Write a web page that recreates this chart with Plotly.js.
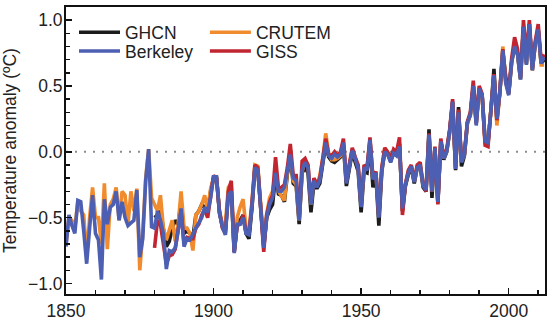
<!DOCTYPE html>
<html>
<head>
<meta charset="utf-8">
<script src="https://cdn.plot.ly/plotly-3.0.1.min.js"></script>
<style>html,body{margin:0;padding:0;background:#fff;}#chart{width:550px;height:323px;}</style>
</head>
<body>
<div id="chart"></div>
<script>
// Years 1850-2012 (Berkeley, CRUTEM) and 1880-2012 (GHCN, GISS)
var yearsAll = [1850,1851,1852,1853,1854,1855,1856,1857,1858,1859,1860,1861,1862,1863,1864,1865,1866,1867,1868,1869,
1870,1871,1872,1873,1874,1875,1876,1877,1878,1879,1880,1881,1882,1883,1884,1885,1886,1887,1888,1889,
1890,1891,1892,1893,1894,1895,1896,1897,1898,1899,1900,1901,1902,1903,1904,1905,1906,1907,1908,1909,
1910,1911,1912,1913,1914,1915,1916,1917,1918,1919,1920,1921,1922,1923,1924,1925,1926,1927,1928,1929,
1930,1931,1932,1933,1934,1935,1936,1937,1938,1939,1940,1941,1942,1943,1944,1945,1946,1947,1948,1949,
1950,1951,1952,1953,1954,1955,1956,1957,1958,1959,1960,1961,1962,1963,1964,1965,1966,1967,1968,1969,
1970,1971,1972,1973,1974,1975,1976,1977,1978,1979,1980,1981,1982,1983,1984,1985,1986,1987,1988,1989,
1990,1991,1992,1993,1994,1995,1996,1997,1998,1999,2000,2001,2002,2003,2004,2005,2006,2007,2008,2009,
2010,2011,2012];
var years1880 = [1880,1881,1882,1883,1884,1885,1886,1887,1888,1889,
1890,1891,1892,1893,1894,1895,1896,1897,1898,1899,1900,1901,1902,1903,1904,1905,1906,1907,1908,1909,
1910,1911,1912,1913,1914,1915,1916,1917,1918,1919,1920,1921,1922,1923,1924,1925,1926,1927,1928,1929,
1930,1931,1932,1933,1934,1935,1936,1937,1938,1939,1940,1941,1942,1943,1944,1945,1946,1947,1948,1949,
1950,1951,1952,1953,1954,1955,1956,1957,1958,1959,1960,1961,1962,1963,1964,1965,1966,1967,1968,1969,
1970,1971,1972,1973,1974,1975,1976,1977,1978,1979,1980,1981,1982,1983,1984,1985,1986,1987,1988,1989,
1990,1991,1992,1993,1994,1995,1996,1997,1998,1999,2000,2001,2002,2003,2004,2005,2006,2007,2008,2009,
2010,2011,2012];

var berkeley = [-0.72,-0.48,-0.56,-0.62,-0.37,-0.38,-0.60,-0.85,-0.58,-0.33,
-0.62,-0.67,-0.97,-0.36,-0.55,-0.42,-0.40,-0.30,-0.52,-0.38,
-0.50,-0.56,-0.54,-0.52,-0.29,-0.80,-0.66,-0.22,0.02,-0.57,
-0.58,-0.45,-0.52,-0.62,-0.89,-0.75,-0.76,-0.73,-0.60,-0.43,
-0.72,-0.66,-0.67,-0.62,-0.58,-0.54,-0.50,-0.42,-0.46,-0.35,
-0.19,-0.19,-0.47,-0.57,-0.63,-0.33,-0.30,-0.77,-0.55,-0.55,
-0.50,-0.62,-0.63,-0.42,-0.12,-0.14,-0.42,-0.73,-0.50,-0.40,
-0.35,-0.16,-0.30,-0.30,-0.27,-0.15,-0.02,-0.20,-0.22,-0.52,
-0.14,-0.08,-0.12,-0.40,-0.22,-0.27,-0.22,-0.08,0.07,-0.03,
-0.05,-0.02,-0.04,-0.02,0.07,-0.24,-0.12,0.01,-0.05,-0.13,
-0.42,-0.12,-0.14,0.09,-0.21,-0.16,-0.50,-0.14,0.00,-0.02,
-0.08,-0.01,-0.03,0.04,-0.43,-0.25,-0.16,-0.11,-0.23,-0.12,
-0.10,-0.26,-0.29,0.13,-0.30,0.03,-0.38,0.08,-0.05,0.00,
0.15,0.38,-0.13,0.30,-0.08,-0.02,0.22,0.28,0.50,0.20,
0.48,0.43,0.08,0.07,0.32,0.58,0.25,0.45,0.77,0.52,
0.43,0.68,0.80,0.74,0.55,0.95,0.66,0.97,0.62,0.82,
0.93,0.67,0.72];

var crutem = [-0.70,-0.50,-0.52,-0.58,-0.38,-0.45,-0.48,-0.80,-0.50,-0.27,
-0.50,-0.50,-0.70,-0.24,-0.74,-0.40,-0.36,-0.27,-0.52,-0.30,
-0.33,-0.55,-0.30,-0.45,-0.28,-0.90,-0.62,-0.20,0.02,-0.35,
-0.40,-0.45,-0.33,-0.58,-0.67,-0.60,-0.52,-0.68,-0.55,-0.30,
-0.58,-0.58,-0.62,-0.75,-0.48,-0.45,-0.40,-0.33,-0.45,-0.28,
-0.20,-0.20,-0.45,-0.55,-0.55,-0.27,-0.24,-0.75,-0.50,-0.42,
-0.36,-0.58,-0.60,-0.38,-0.10,-0.11,-0.40,-0.70,-0.47,-0.35,
-0.30,-0.15,-0.30,-0.33,-0.37,-0.15,-0.02,-0.22,-0.25,-0.52,
-0.15,-0.07,-0.10,-0.40,-0.20,-0.25,-0.18,-0.05,0.14,-0.01,
-0.06,-0.06,-0.05,-0.03,0.07,-0.22,-0.10,0.02,-0.05,-0.12,
-0.40,-0.14,-0.12,0.09,-0.20,-0.15,-0.48,-0.12,0.02,-0.02,
-0.06,0.00,-0.02,0.06,-0.44,-0.24,-0.15,-0.11,-0.22,-0.11,
-0.10,-0.25,-0.28,0.12,-0.30,0.02,-0.37,0.08,-0.05,0.01,
0.14,0.37,-0.12,0.28,-0.07,-0.02,0.21,0.28,0.50,0.21,
0.47,0.42,0.07,0.07,0.31,0.58,0.20,0.45,0.80,0.53,
0.44,0.69,0.80,0.75,0.56,0.94,0.67,0.96,0.62,0.82,
0.92,0.66,0.66];

var ghcn = [-0.50,-0.48,-0.45,-0.60,-0.72,-0.68,-0.58,-0.52,-0.55,-0.38,
-0.62,-0.60,-0.62,-0.65,-0.48,-0.45,-0.40,-0.42,-0.45,-0.30,
-0.20,-0.20,-0.46,-0.57,-0.60,-0.32,-0.30,-0.76,-0.55,-0.52,
-0.48,-0.62,-0.66,-0.43,-0.13,-0.14,-0.42,-0.72,-0.50,-0.44,
-0.40,-0.18,-0.32,-0.33,-0.38,-0.17,-0.05,-0.24,-0.26,-0.55,
-0.16,-0.12,-0.16,-0.46,-0.24,-0.28,-0.24,-0.10,0.06,-0.04,
-0.07,-0.08,-0.06,-0.04,0.05,-0.26,-0.13,0.00,-0.08,-0.15,
-0.46,-0.15,-0.16,0.07,-0.27,-0.18,-0.56,-0.15,0.00,-0.02,
-0.07,0.00,-0.01,0.06,-0.45,-0.26,-0.17,-0.12,-0.24,-0.12,
-0.11,-0.27,-0.30,0.17,-0.35,0.03,-0.39,0.08,-0.06,0.00,
0.16,0.38,-0.14,0.34,-0.11,-0.03,0.22,0.28,0.50,0.22,
0.48,0.43,0.08,0.07,0.32,0.63,0.24,0.45,0.76,0.57,
0.44,0.68,0.80,0.74,0.55,0.95,0.67,0.97,0.62,0.82,
0.93,0.67,0.70];

var giss = [-0.73,-0.52,-0.55,-0.70,-0.85,-0.79,-0.78,-0.74,-0.60,-0.45,
-0.70,-0.65,-0.66,-0.66,-0.58,-0.55,-0.48,-0.44,-0.50,-0.33,
-0.18,-0.20,-0.45,-0.58,-0.62,-0.30,-0.22,-0.76,-0.56,-0.55,
-0.48,-0.60,-0.62,-0.40,-0.10,-0.12,-0.40,-0.76,-0.48,-0.38,
-0.33,-0.04,-0.28,-0.27,-0.25,-0.12,0.06,-0.18,-0.18,-0.50,
-0.07,-0.05,-0.10,-0.38,-0.20,-0.25,-0.20,-0.05,0.10,-0.02,
-0.03,0.00,-0.03,0.00,0.10,-0.22,-0.08,0.03,-0.04,-0.10,
-0.40,-0.10,-0.12,0.11,-0.20,-0.15,-0.48,-0.12,0.03,0.00,
-0.05,0.02,0.00,0.11,-0.48,-0.25,-0.14,-0.10,-0.22,-0.10,
-0.08,-0.25,-0.30,0.14,-0.30,0.04,-0.40,0.10,-0.04,0.02,
0.17,0.40,-0.12,0.32,-0.06,-0.01,0.23,0.30,0.54,0.22,
0.50,0.44,0.05,0.04,0.33,0.59,0.24,0.46,0.78,0.54,
0.45,0.71,0.87,0.78,0.57,1.00,0.72,1.00,0.64,0.84,
0.97,0.69,0.74];

var xTickVals = [1850, 1900, 1950, 2000];
var yTickVals = [-1.0, -0.5, 0.0, 0.5, 1.0];

var FONT = '"Liberation Sans", Arial, Helvetica, sans-serif';
var LW = 3.6;

var traces = [
  {x: years1880, y: ghcn, name: 'GHCN', type: 'scatter', mode: 'lines',
   line: {color: '#1c1c1c', width: LW}, legend: 'legend'},
  {x: yearsAll, y: crutem, name: 'CRUTEM', type: 'scatter', mode: 'lines',
   line: {color: '#f08c2e', width: LW}, legend: 'legend2'},
  {x: years1880, y: giss, name: 'GISS', type: 'scatter', mode: 'lines',
   line: {color: '#c02530', width: LW}, legend: 'legend4'},
  {x: yearsAll, y: berkeley, name: 'Berkeley', type: 'scatter', mode: 'lines',
   line: {color: '#4c5fb2', width: LW}, legend: 'legend3'}
];

function legendAt(x, y) {
  return {
    orientation: 'v', xanchor: 'left', yanchor: 'top', x: x, y: y,
    bgcolor: 'rgba(0,0,0,0)', borderwidth: 0,
    font: {family: FONT, size: 17.5, color: '#222'},
    itemwidth: 41, itemclick: false, itemdoubleclick: false
  };
}

var layout = {
  width: 550, height: 323,
  margin: {l: 66, r: 5, t: 7, b: 29, pad: 0},
  paper_bgcolor: '#fff', plot_bgcolor: '#fff',
  font: {family: FONT, size: 17.5, color: '#222'},
  showlegend: true,
  legend: legendAt(0.0167, 0.9745),
  legend3: legendAt(0.0167, 0.909),
  legend2: legendAt(0.290, 0.9745),
  legend4: legendAt(0.290, 0.909),
  xaxis: {
    range: [1850, 2012.3], tickvals: xTickVals, ticktext: xTickVals.map(String),
    ticks: 'inside', ticklen: 6, tickwidth: 1.5, tickcolor: '#111',
    minor: {tick0: 1850, dtick: 10, ticks: 'inside', ticklen: 4, tickwidth: 1.5, tickcolor: '#111'},
    showline: true, linewidth: 2, linecolor: '#111', mirror: true,
    showgrid: false, zeroline: false,
    tickfont: {family: FONT, size: 17.5, color: '#222'}
  },
  yaxis: {
    range: [-1.08, 1.1], tickvals: yTickVals, tickformat: '.1f',
    ticks: 'inside', ticklen: 6, tickwidth: 1.5, tickcolor: '#111',
    minor: {tick0: 0, dtick: 0.1, ticks: 'inside', ticklen: 4, tickwidth: 1.5, tickcolor: '#111'},
    showline: true, linewidth: 2, linecolor: '#111', mirror: true,
    showgrid: false, zeroline: false, ticklabelstandoff: -2,
    tickfont: {family: FONT, size: 17.5, color: '#222'},
    title: {text: 'Temperature anomaly (ºC)', font: {family: FONT, size: 17.5, color: '#222'}, standoff: 10}
  },
  shapes: [{
    type: 'line', xref: 'paper', x0: 0, x1: 1, yref: 'y', y0: 0, y1: 0,
    layer: 'below', line: {color: '#8c8c8c', width: 2, dash: '2px,7px'}
  }]
};

Plotly.newPlot('chart', traces, layout, {staticPlot: true, displayModeBar: false});
</script>
</body>
</html>
